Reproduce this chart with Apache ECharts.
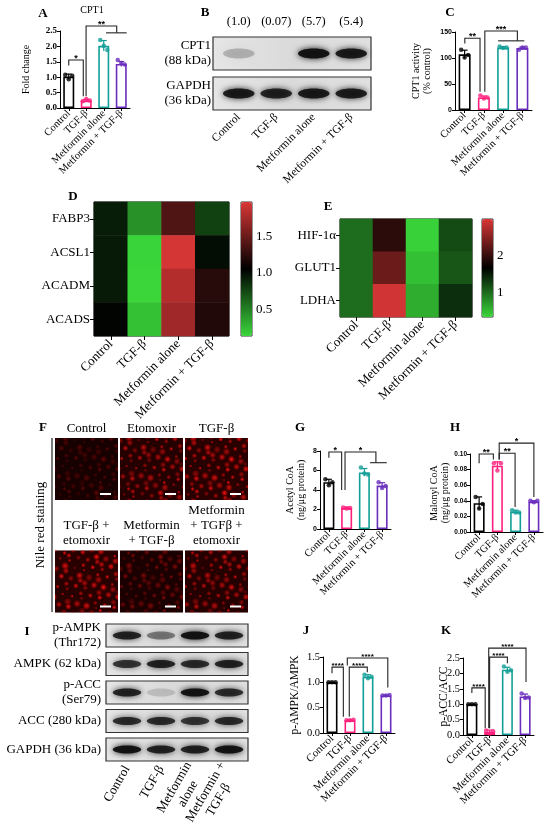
<!DOCTYPE html>
<html><head><meta charset="utf-8">
<script src="https://cdn.jsdelivr.net/npm/echarts@6/dist/echarts.min.js"></script>
<style>html,body{margin:0;padding:0;background:#fff}#c{width:550px;height:840px}</style>
</head><body><div id="c"></div>
<script>
// ---------------- DATA ----------------
const groupNames = ['Control', 'TGF-β', 'Metformin alone', 'Metformin + TGF-β'];
const groupColors = ['#000000', '#ff1f7d', '#129f97', '#6a2dbd'];

// A: CPT1 fold change  [min,max,interval]
const cpt1FoldAxis = [0, 2.5, 0.5];
const cpt1FoldMean = [1.02, 0.24, 2.02, 1.43];
const cpt1FoldSD = [0.08, 0.04, 0.17, 0.08];
const cpt1FoldPoints = [[1.08, 0.93, 1.05], [0.22, 0.29, 0.24], [2.21, 2.02, 1.88], [1.56, 1.46, 1.41]];
// [from, to, top, leftEnd, rightEnd, label, groupFrom, groupTo]
const cpt1FoldSig = [[0.0, 0.83, 1.56, 1.38, 0.38, '*'], [0.99, 2.74, 2.66, 0.38, 2.44, '**', 2.13, 3.31]];

// B: CPT1 western blot
const blotBLanes = ['Control', 'TGF-β', 'Metformin alone', 'Metformin + TGF-β'];
const blotBRatios = ['(1.0)', '(0.07)', '(5.7)', '(5.4)'];
const blotBRows = ['CPT1\n(88 kDa)', 'GAPDH\n(36 kDa)'];
const blotBCpt1 = [0.22, 0.0, 0.95, 0.9];
const blotBGapdh = [0.9, 0.85, 0.9, 0.88];

// C: CPT1 activity
const cpt1ActAxis = [0, 150, 50];
const cpt1ActMean = [107, 24, 120, 119];
const cpt1ActSD = [8, 3, 2, 2];
const cpt1ActPoints = [[116, 101, 106], [28, 22, 24], [122, 119, 120], [116, 120, 120]];
const cpt1ActSig = [[0.01, 0.8, 138, 128, 35, '**'], [1.05, 2.74, 152, 35, 133, '***', 1.74, 3.1]];

// D: FAO genes heatmap
const heatDGenes = ['FABP3', 'ACSL1', 'ACADM', 'ACADS'];
const heatDFabp3 = [0.93, 0.43, 1.39, 0.78];
const heatDAcsl1 = [0.95, 0.15, 1.95, 1.0];
const heatDAcadm = [0.95, 0.14, 1.81, 1.22];
const heatDAcads = [1.04, 0.23, 1.73, 1.2];
const heatDRange = [0.14, 1.97];
const heatDTicks = [0.5, 1.0, 1.5];

// E: glycolysis genes heatmap
const heatEGenes = ['HIF-1α', 'GLUT1', 'LDHA'];
const heatEHif = [1.0, 1.92, 0.4, 1.21];
const heatEGlut1 = [1.0, 2.3, 0.5, 1.14];
const heatELdha = [1.0, 2.9, 0.62, 1.38];
const heatERange = [0.37, 2.95];
const heatETicks = [1, 2];

// F: Nile red staining (relative red intensity of each image)
const nileRedLabels = ['Control', 'Etomoxir', 'TGF-β', 'TGF-β +\netomoxir', 'Metformin\n+ TGF-β', 'Metformin\n+ TGFβ +\netomoxir'];
const nileRedIntensity = [0.3, 0.8, 0.95, 0.95, 0.45, 0.8];

// G: Acetyl CoA
const acetylAxis = [0, 8, 2];
const acetylMean = [4.8, 2.15, 5.8, 4.45];
const acetylSD = [0.3, 0.1, 0.4, 0.3];
const acetylPoints = [[5.1, 4.5, 4.8], [2.2, 2.1, 2.15], [6.3, 5.7, 5.6], [4.8, 4.2, 4.4]];
const acetylSig = [[0.0, 0.72, 7.9, 7.3, 4.0, '*'], [0.91, 2.65, 7.9, 4.0, 6.8, '*', 2.32, 3.26]];

// H: Malonyl CoA
const malonylAxis = [0, 0.10, 0.02];
const malonylMean = [0.037, 0.085, 0.026, 0.039];
const malonylSD = [0.008, 0.005, 0.002, 0.001];
const malonylPoints = [[0.045, 0.030, 0.036], [0.088, 0.079, 0.088], [0.028, 0.025, 0.025], [0.040, 0.038, 0.040]];
const malonylSig = [[0.0, 0.78, 0.100, 0.088, 0.093, '**'], [1.1, 1.97, 0.101, 0.093, 0.032, '**'], [1.1, 3.0, 0.114, 0.093, 0.045, '*']];

// I: AMPK / ACC western blots
const blotILanes = ['Control', 'TGF-β', 'Metformin\nalone    ', 'Metformin +\nTGF-β     '];
const blotIRows = ['p-AMPK\n(Thr172)', 'AMPK (62 kDa)', 'p-ACC\n(Ser79)', 'ACC (280 kDa)', 'GAPDH (36 kDa)'];
const blotIpAmpk = [0.85, 0.45, 0.95, 0.85];
const blotIAmpk = [0.75, 0.85, 0.8, 0.85];
const blotIpAcc = [0.85, 0.15, 0.95, 0.8];
const blotIAcc = [0.8, 0.8, 0.75, 0.8];
const blotIGapdh = [0.95, 0.85, 0.85, 0.95];

// J: p-AMPK/AMPK
const ampkAxis = [0, 1.5, 0.5];
const ampkMean = [1.0, 0.25, 1.11, 0.74];
const ampkSD = [0.0, 0.01, 0.04, 0.01];
const ampkPoints = [[1.0, 1.0, 1.0], [0.25, 0.25, 0.26], [1.15, 1.08, 1.11], [0.74, 0.74, 0.75]];
const ampkSig = [[0.0, 0.63, 1.30, 1.18, 0.32, '****'], [0.96, 1.96, 1.30, 0.32, 1.2, '****'], [0.85, 3.1, 1.48, 1.33, 0.9, '****']];

// K: p-ACC/ACC
const accAxis = [0, 2.5, 0.5];
const accMean = [1.0, 0.1, 2.12, 1.25];
const accSD = [0.0, 0.06, 0.08, 0.08];
const accPoints = [[1.0, 1.0, 1.0], [0.15, 0.05, 0.12], [2.22, 2.05, 2.1], [1.35, 1.2, 1.22]];
const accSig = [[0.0, 0.75, 1.53, 1.36, 0.22, '****'], [1.0, 2.0, 2.53, 0.22, 2.33, '****'], [0.95, 3.05, 2.82, 0.22, 1.72, '****']];

// ---------------- BUILD ----------------
const SERIF = "'Liberation Serif','Times New Roman',serif";
const SANS = "'Liberation Sans',Arial,sans-serif";
const chart = echarts.init(document.getElementById('c'), null, {renderer: 'canvas'});
const grids = [], xAxes = [], yAxes = [], series = [], visualMaps = [];
function gridOf(g) { grids.push(Object.assign({outerBoundsMode: 'none', containLabel: false}, g)); return grids.length - 1; }

function barPanel(p) {
  const gi = gridOf(p.box);
  const xi = xAxes.length, yi = yAxes.length;
  xAxes.push({type: 'category', gridIndex: gi, data: groupNames,
    axisLine: {show: true, lineStyle: {color: '#000', width: 1}},
    axisTick: {show: true, alignWithLabel: true, length: 3, lineStyle: {color: '#000'}},
    axisLabel: {interval: 0, rotate: 45, fontFamily: SERIF, fontSize: p.catSize, color: '#000', margin: 4},
    splitLine: {show: false}});
  yAxes.push({type: 'value', gridIndex: gi, min: p.axis[0], max: p.axis[1], interval: p.axis[2],
    axisLine: {show: true, lineStyle: {color: '#000', width: 1}},
    axisTick: {show: true, length: 3, lineStyle: {color: '#000'}},
    splitLine: {show: false},
    axisLabel: {fontFamily: p.tickFamily, fontSize: p.tickSize, fontWeight: p.tickWeight, color: '#000', margin: 3, formatter: p.fmt},
    name: p.name, nameLocation: 'middle', nameGap: p.nameGap, nameMoveOverlap: false,
    nameTextStyle: {fontFamily: SERIF, fontSize: p.nameSize, color: '#000', lineHeight: p.nameSize + 1}});
  series.push({type: 'bar', xAxisIndex: xi, yAxisIndex: yi, barWidth: p.barWidth, silent: true, z: 2,
    data: p.mean.map((v, i) => ({value: v, itemStyle: {color: '#ffffff', borderColor: groupColors[i], borderWidth: 1.6}}))});
  series.push({type: 'custom', xAxisIndex: xi, yAxisIndex: yi, z: 3, silent: true,
    data: p.mean.map((v, i) => [i, v, p.sd[i]]),
    renderItem: (params, api) => {
      const i = api.value(0), m = api.value(1), s = api.value(2);
      const t = api.coord([i, m + s]), b = api.coord([i, m - s]);
      const c = groupColors[params.dataIndex];
      return {type: 'group', children: [
        {type: 'line', shape: {x1: t[0], y1: t[1], x2: b[0], y2: b[1]}, style: {stroke: c, lineWidth: 1.2}},
        {type: 'line', shape: {x1: t[0] - 3, y1: t[1], x2: t[0] + 3, y2: t[1]}, style: {stroke: c, lineWidth: 1.2}}
      ]};
    }});
  const dots = [];
  p.points.forEach((arr, i) => arr.forEach((v, k) => dots.push({value: [i, v], symbolOffset: [(k - 1) * 3.5, 0], itemStyle: {color: groupColors[i]}})));
  series.push({type: 'scatter', xAxisIndex: xi, yAxisIndex: yi, data: dots, symbolSize: 4.5, z: 4, silent: true});
  series.push({type: 'custom', xAxisIndex: xi, yAxisIndex: yi, z: 5, silent: true, clip: false,
    data: p.sig.map((b, i) => [i]),
    renderItem: (params, api) => {
      const [from, to, top, lEnd, rEnd, label, gFrom, gTo] = p.sig[params.dataIndex];
      const x0 = api.coord([0, 0])[0], bw = api.size([1, 0])[0];
      const X = v => x0 + v * bw, Y = v => api.coord([0, v])[1];
      const st = {stroke: '#222', lineWidth: 1.1, fill: null};
      const ch = [{type: 'polyline', shape: {points: [[X(from), Y(lEnd)], [X(from), Y(top)], [X(to), Y(top)], [X(to), Y(rEnd)]]}, style: st}];
      if (gFrom !== undefined) ch.push({type: 'line', shape: {x1: X(gFrom), y1: Y(rEnd), x2: X(gTo), y2: Y(rEnd)}, style: st});
      ch.push({type: 'text', x: (X(from) + X(to)) / 2, y: Y(top) + 3, style: {text: label, fontFamily: SANS, fontWeight: 'bold', fontSize: p.starSize, fill: '#000', align: 'center', verticalAlign: 'bottom'}});
      return {type: 'group', children: ch};
    }});
}

function heatPanel(p) {
  const gi = gridOf(Object.assign({show: true, borderColor: '#000', borderWidth: 1, backgroundColor: 'transparent'}, p.box));
  const xi = xAxes.length, yi = yAxes.length;
  xAxes.push({type: 'category', gridIndex: gi, data: groupNames, axisLine: {show: false},
    axisTick: {show: true, alignWithLabel: true, length: 4, lineStyle: {color: '#000'}},
    axisLabel: {interval: 0, rotate: 45, fontFamily: SERIF, fontSize: 13, color: '#000', margin: 6},
    splitLine: {show: false}, splitArea: {show: false}});
  yAxes.push({type: 'category', gridIndex: gi, data: p.rows, inverse: true, axisLine: {show: false},
    axisTick: {show: true, alignWithLabel: true, length: 4, lineStyle: {color: '#000'}},
    axisLabel: {interval: 0, fontFamily: SERIF, fontSize: 13, color: '#000', margin: 4},
    splitLine: {show: false}, splitArea: {show: false}});
  const si = series.length;
  series.push({type: 'heatmap', xAxisIndex: xi, yAxisIndex: yi, emphasis: {disabled: true}, silent: true,
    data: p.values.flatMap((row, r) => row.map((v, c) => [c, r, v]))});
  visualMaps.push({type: 'continuous', seriesIndex: si, dimension: 2, min: p.range[0], max: p.range[1],
    inRange: {color: ['#3ad63a', '#000000', '#d93636']}, orient: 'vertical', calculable: false,
    left: p.cb.left, top: p.box.top, itemWidth: p.cb.width, itemHeight: p.box.height, padding: 0,
    text: null, showLabel: false, borderColor: '#000', borderWidth: 0});
  const gi2 = gridOf({left: p.cb.left, top: p.box.top, width: p.cb.width, height: p.box.height, show: true, borderColor: '#333', borderWidth: 1, backgroundColor: 'transparent'});
  xAxes.push({type: 'value', gridIndex: gi2, show: false});
  yAxes.push({type: 'value', gridIndex: gi2, position: 'right', min: p.range[0], max: p.range[1],
    axisLine: {show: false}, splitLine: {show: false},
    axisTick: {show: true, length: 4, customValues: p.ticks, lineStyle: {color: '#000'}},
    axisLabel: {customValues: p.ticks, fontFamily: SERIF, fontSize: 13, color: '#000', margin: 4, formatter: p.fmt}});
}

function blotPanel(p) {
  const gi = gridOf(p.box);
  const xi = xAxes.length, yi = yAxes.length;
  xAxes.push({type: 'category', gridIndex: gi, data: p.lanes, position: 'bottom', axisLine: {show: false}, axisTick: {show: false},
    axisLabel: {interval: 0, rotate: p.rotate, fontFamily: SERIF, fontSize: p.laneSize, lineHeight: p.laneSize + 2, color: '#000', margin: p.laneMargin}});
  if (p.top) xAxes.push({type: 'category', gridIndex: gi, data: p.top, position: 'top', axisLine: {show: false}, axisTick: {show: false},
    axisLabel: {interval: 0, fontFamily: SERIF, fontSize: 12.5, color: '#000', margin: 5}});
  yAxes.push({type: 'category', gridIndex: gi, data: p.rows, inverse: true, axisLine: {show: false}, axisTick: {show: false},
    axisLabel: {interval: 0, fontFamily: SERIF, fontSize: 13, lineHeight: 15, color: '#000', margin: p.rowMargin}});
  series.push({type: 'custom', xAxisIndex: xi, yAxisIndex: yi, z: 1, silent: true, clip: false,
    data: p.rows.map((_, r) => [0, r]),
    renderItem: (params, api) => {
      const cs = params.coordSys; const c = api.coord([0, api.value(1)]); const h = p.boxH;
      const x = cs.x - p.padL, w = cs.width + p.padL + p.padR;
      return {type: 'rect', shape: {x: x, y: c[1] - h / 2, width: w, height: h},
        style: {fill: new echarts.graphic.LinearGradient(0, 0, 1, 0, [{offset: 0, color: '#e6e6e6'}, {offset: 0.5, color: '#dadada'}, {offset: 1, color: '#e0e0e0'}]), stroke: '#333', lineWidth: 1.2}};
    }});
  series.push({type: 'custom', xAxisIndex: xi, yAxisIndex: yi, z: 2, silent: true, clip: false,
    data: p.bands.flatMap((row, r) => row.map((v, l) => [l, r, v])),
    renderItem: (params, api) => {
      const c = api.coord([api.value(0), api.value(1)]); const v = api.value(2);
      const bw = api.size([1, 0])[0];
      return {type: 'ellipse', shape: {cx: c[0], cy: c[1], rx: bw * p.bandW, ry: p.bandRy},
        style: {fill: 'rgba(15,15,15,' + v + ')', shadowBlur: 6, shadowColor: 'rgba(0,0,0,' + v + ')'}};
    }});
}

// texture for the fluorescence micrographs (decoration only, not data)
function makeCellPattern() {
  const S = 64;
  const cv = document.createElement('canvas'); cv.width = S; cv.height = S;
  const ctx = cv.getContext('2d');
  const a1 = 0.7548776662, a2 = 0.5698402910;
  for (let k = 0; k < 70; k++) {
    const x = ((0.5 + a1 * k) % 1) * S, y = ((0.5 + a2 * k) % 1) * S;
    const r = 1.6 + ((k * 0.618034) % 1) * 2.6;
    const a = 0.45 + ((k * 0.414214) % 1) * 0.55;
    for (const dx of [-S, 0, S]) for (const dy of [-S, 0, S]) {
      const cx = x + dx, cy = y + dy;
      if (cx < -6 || cx > S + 6 || cy < -6 || cy > S + 6) continue;
      const g = ctx.createRadialGradient(cx, cy, 0, cx, cy, r);
      g.addColorStop(0, 'rgba(255,50,50,' + a + ')'); g.addColorStop(0.55, 'rgba(225,0,0,' + (a * 0.75) + ')'); g.addColorStop(1, 'rgba(120,0,0,0)');
      ctx.fillStyle = g; ctx.beginPath(); ctx.arc(cx, cy, r, 0, Math.PI * 2); ctx.fill();
    }
  }
  return cv;
}

function microPanel() {
  const gi = gridOf({left: 54, top: 412.75, width: 195, height: 225});
  const xi = xAxes.length, yi = yAxes.length;
  xAxes.push({type: 'category', gridIndex: gi, data: ['c1', 'c2', 'c3'], show: false});
  yAxes.push({type: 'category', gridIndex: gi, data: ['r1', 'r2'], show: false, inverse: true});
  const pattern = makeCellPattern();
  series.push({type: 'custom', xAxisIndex: xi, yAxisIndex: yi, silent: true, clip: false,
    data: nileRedIntensity.map((v, k) => [k % 3, Math.floor(k / 3), v]),
    renderItem: (params, api) => {
      const c = api.coord([api.value(0), api.value(1)]); const v = api.value(2);
      const w = 63, h = 62, x = c[0] - w / 2, y = c[1] - h / 2;
      return {type: 'group', children: [
        {type: 'rect', shape: {x, y, width: w, height: h}, style: {fill: '#0d0000'}},
        {type: 'rect', shape: {x, y, width: w, height: h}, style: {fill: {image: pattern, repeat: 'repeat'}, opacity: v}},
        {type: 'rect', shape: {x, y, width: w, height: h}, style: {fill: 'rgba(150,0,0,' + (v * 0.22) + ')'}},
        {type: 'rect', shape: {x: x + w - 18, y: y + h - 7, width: 11, height: 2}, style: {fill: '#ffffff'}},
        {type: 'text', x: c[0], y: y - 2, style: {text: nileRedLabels[params.dataIndex], fontFamily: SERIF, fontSize: 13, lineHeight: 15, fill: '#000', align: 'center', verticalAlign: 'bottom'}}
      ]};
    }});
}

// A
barPanel({box: {left: 60, top: 31, width: 70, height: 77}, axis: cpt1FoldAxis, mean: cpt1FoldMean, sd: cpt1FoldSD, points: cpt1FoldPoints, sig: cpt1FoldSig,
  catSize: 10.5, tickFamily: SERIF, tickSize: 9, tickWeight: 'bold', fmt: v => v.toFixed(1), name: 'Fold change', nameGap: 28, nameSize: 10, barWidth: 11, starSize: 9});
// B
blotPanel({box: {left: 220, top: 33.5, width: 150, height: 80}, lanes: blotBLanes, top: blotBRatios, rows: blotBRows, bands: [blotBCpt1, blotBGapdh],
  rotate: 45, laneSize: 11.5, laneMargin: 2, rowMargin: 9, boxH: 33, padL: 7, padR: 1, bandW: 0.42, bandRy: 5});
// C
barPanel({box: {left: 455, top: 32, width: 77, height: 78}, axis: cpt1ActAxis, mean: cpt1ActMean, sd: cpt1ActSD, points: cpt1ActPoints, sig: cpt1ActSig,
  catSize: 10.5, tickFamily: SANS, tickSize: 7, tickWeight: 'bold', fmt: v => String(v), name: 'CPT1 activity\n(% control)', nameGap: 22, nameSize: 10, barWidth: 12, starSize: 9});
// D
heatPanel({box: {left: 94, top: 202, width: 135, height: 134}, rows: heatDGenes, values: [heatDFabp3, heatDAcsl1, heatDAcadm, heatDAcads],
  range: heatDRange, ticks: heatDTicks, cb: {left: 241, width: 11}, fmt: v => v.toFixed(1)});
// E
heatPanel({box: {left: 340, top: 219, width: 132, height: 98}, rows: heatEGenes, values: [heatEHif, heatEGlut1, heatELdha],
  range: heatERange, ticks: heatETicks, cb: {left: 482, width: 11}, fmt: v => String(Math.round(v))});
// F
microPanel();
// G
barPanel({box: {left: 320, top: 451, width: 71, height: 78}, axis: acetylAxis, mean: acetylMean, sd: acetylSD, points: acetylPoints, sig: acetylSig,
  catSize: 10.5, tickFamily: SANS, tickSize: 7, tickWeight: 'bold', fmt: v => String(v), name: 'Acetyl CoA\n(ng/μg protein)', nameGap: 13, nameSize: 10, barWidth: 11, starSize: 9});
// H
barPanel({box: {left: 470, top: 454, width: 73, height: 78}, axis: malonylAxis, mean: malonylMean, sd: malonylSD, points: malonylPoints, sig: malonylSig,
  catSize: 10.5, tickFamily: SANS, tickSize: 6.5, tickWeight: 'bold', fmt: v => v.toFixed(2), name: 'Malonyl CoA\n(ng/μg protein)', nameGap: 19, nameSize: 10, barWidth: 11, starSize: 9});
// I
blotPanel({box: {left: 110, top: 621.25, width: 136, height: 142.5}, lanes: blotILanes, rows: blotIRows, bands: [blotIpAmpk, blotIAmpk, blotIpAcc, blotIAcc, blotIGapdh],
  rotate: 60, laneSize: 13, laneMargin: 3, rowMargin: 9, boxH: 23, padL: 4, padR: 2, bandW: 0.42, bandRy: 4});
// J
barPanel({box: {left: 323, top: 657, width: 72, height: 76}, axis: ampkAxis, mean: ampkMean, sd: ampkSD, points: ampkPoints, sig: ampkSig,
  catSize: 11, tickFamily: SERIF, tickSize: 10.5, tickWeight: 'normal', fmt: v => v.toFixed(1), name: 'p-AMPK/AMPK', nameGap: 22, nameSize: 11.5, barWidth: 11, starSize: 8});
// K
barPanel({box: {left: 463, top: 658, width: 71, height: 77}, axis: accAxis, mean: accMean, sd: accSD, points: accPoints, sig: accSig,
  catSize: 11, tickFamily: SERIF, tickSize: 10.5, tickWeight: 'normal', fmt: v => v.toFixed(1), name: 'p-ACC/ACC', nameGap: 13, nameSize: 11.5, barWidth: 11, starSize: 8});

const letter = (t, x, y) => ({type: 'text', x, y, style: {text: t, fontFamily: SERIF, fontWeight: 'bold', fontSize: 13, fill: '#000', align: 'center', verticalAlign: 'middle'}});
const graphics = [
  letter('A', 43, 14), letter('B', 205, 13), letter('C', 450, 13), letter('D', 73, 197), letter('E', 328, 207),
  letter('F', 43, 428), letter('G', 300, 428), letter('H', 455, 428), letter('I', 27, 632), letter('J', 306, 631), letter('K', 446, 631),
  {type: 'text', x: 92, y: 10, style: {text: 'CPT1', fontFamily: SERIF, fontSize: 10, fill: '#000', align: 'center', verticalAlign: 'middle'}},
  {type: 'line', shape: {x1: 52, y1: 438, x2: 52, y2: 612}, style: {stroke: '#222', lineWidth: 1.2}},
  {type: 'text', x: 41, y: 525, rotation: Math.PI / 2, style: {text: 'Nile red staining', fontFamily: SERIF, fontSize: 13, fill: '#000', align: 'center', verticalAlign: 'middle'}}
];

chart.setOption({
  animation: false, backgroundColor: '#ffffff',
  grid: grids, xAxis: xAxes, yAxis: yAxes, visualMap: visualMaps, series: series, graphic: graphics
});
</script></body></html>
